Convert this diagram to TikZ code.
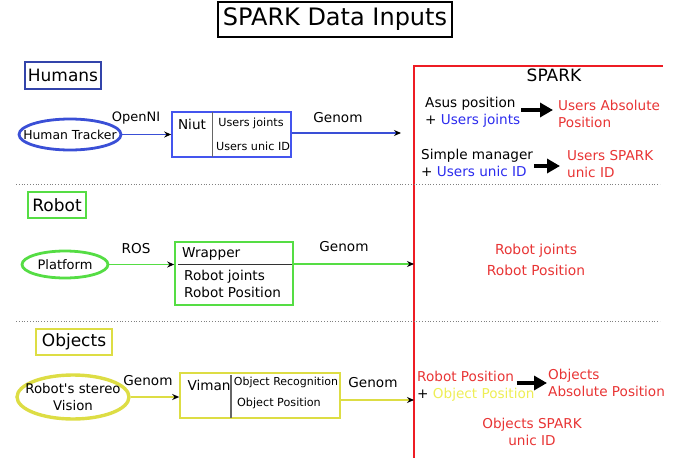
\documentclass[tikz,border=0pt]{standalone}
\usepackage{fontspec}
\setmainfont{DejaVu Sans}[Ligatures=TeXOff]
\usepackage{tikz}
\usetikzlibrary{arrows.meta,shapes.geometric}

\definecolor{hblue}{HTML}{3344AA}
\definecolor{eblue}{HTML}{3A4FD6}
\definecolor{bblue}{HTML}{4455EE}
\definecolor{tblue}{HTML}{2B2BEE}
\definecolor{rgreen}{HTML}{55DD44}
\definecolor{oyell}{HTML}{DDDD44}
\definecolor{tyell}{HTML}{EEEE55}
\definecolor{sred}{HTML}{EE1C24}
\definecolor{tred}{HTML}{E83434}

\begin{document}
\begin{tikzpicture}[x=1pt,y=-1pt,
    txt/.style={inner sep=1pt,font=\fontsize{13.6}{17}\selectfont},
    sm/.style={inner sep=1pt,font=\fontsize{11.2}{14}\selectfont},
    cat/.style={draw,line width=1.8pt,inner sep=0pt,font=\fontsize{17}{20}\selectfont},
    src/.style={draw,ellipse,inner sep=0pt,line width=2.8pt},
    modbox/.style={draw,line width=1.6pt,inner sep=0pt},
    feed/.style={-{Stealth[black,length=7pt,width=6pt]},line width=1.1pt},
    big/.style={-{Triangle[length=13pt,width=14pt]},line width=3.4pt},
    sep/.style={draw=gray,dotted,line width=0.8pt}]
    \useasboundingbox (0,0) rectangle (673,458);

    % title
    \node[draw,line width=1.6pt,minimum width=234pt,minimum height=35pt,
          font=\fontsize{24}{26}\selectfont] (title) at (335,19.5) {SPARK Data Inputs};

    % SPARK frame
    \draw[sred,line width=2pt] (414,460) -- (414,66) -- (663,66);
    \node[font=\fontsize{17}{20}\selectfont] (spark) at (554,75) {SPARK};

    % separators
    \draw[sep] (16,184) -- (660,184);
    \draw[sep] (16,321) -- (660,321);

    % humans
    \node[cat,draw=hblue,minimum width=76pt,minimum height=27pt] (humans) at (63,75.5) {Humans};
    \node[src,draw=eblue,minimum width=102pt,minimum height=31pt] (track) at (70,134.5) {};
    \node[inner sep=0pt,font=\fontsize{12.4}{14}\selectfont] (trackl) at (track) {Human Tracker};
    \node[modbox,draw=bblue,minimum width=119pt,minimum height=45pt] (niut) at (231.5,134.5) {};
    \draw[gray!80!black,line width=0.8pt] (212,112) -- (212,157);
    \node[txt] (niutl) at (192,124) {Niut};
    \node[sm] (ujoints) at (251,123) {Users joints};
    \node[sm] (uid) at (253,146) {Users unic ID};
    \node[txt,font=\fontsize{13}{17}\selectfont] (openni) at (136,118) {OpenNI};
    \node[txt] (genh) at (338,118) {Genom};
    \coordinate (hend) at (401,133);
    \draw[feed,eblue] (track.east) -- (track.east -| niut.west);
    \draw[feed,eblue] (niut.east |- hend) -- (hend);

    \node[txt,anchor=west,align=left] (asus) at (424,112) {Asus position\\+ {\color{tblue}Users joints}};
    \node[txt,anchor=west,align=left,text=tred] (uabs) at (557,114) {Users Absolute\\Position};
    \draw[big] ([yshift=2pt]asus.east) -- ([yshift=2pt,xshift=-4pt]asus.east -| uabs.west);
    \node[txt,anchor=west,align=left] (simple) at (420,163) {Simple manager\\+ {\color{tblue}Users unic ID}};
    \node[txt,anchor=west,align=left,text=tred] (uspark) at (566,164) {Users SPARK\\unic ID};
    \draw[big] ([yshift=-3pt]simple.east) -- ([yshift=-3pt,xshift=-6pt]simple.east -| uspark.west);

    % robot
    \node[cat,draw=rgreen,minimum width=58pt,minimum height=26pt] (robot) at (57,205) {Robot};
    \node[src,draw=rgreen,minimum width=86pt,minimum height=27pt] (plat) at (65,264.5) {};
    \node[inner sep=0pt,font=\fontsize{13}{14}\selectfont] (platl) at (plat) {Platform};
    \node[modbox,draw=rgreen,minimum width=118pt,minimum height=63pt] (wrap) at (234,273.5) {};
    \node[txt,anchor=west] (wrapl) at (181,254) {Wrapper};
    \draw[black!80,line width=0.9pt] (178,264) -- (292,264);
    \node[txt,anchor=west,align=left] (rdata) at (183,284) {Robot joints\\Robot Position};
    \node[txt] (ros) at (136,249) {ROS};
    \node[txt] (genr) at (344,247) {Genom};
    \coordinate (rend) at (414,264);
    \draw[feed,rgreen] (plat.east) -- (plat.east -| wrap.west);
    \draw[feed,rgreen] (wrap.east |- rend) -- (rend);
    \node[txt,text=tred,align=center,font=\fontsize{13.8}{21}\selectfont] (rspark) at (536,260) {Robot joints\\Robot Position};

    % objects
    \node[cat,draw=oyell,minimum width=76pt,minimum height=26pt] (objects) at (74,342) {Objects};
    \node[src,draw=oyell,line width=3.4pt,minimum width=112pt,minimum height=44pt] (vis) at (73,397) {};
    \node[inner sep=0pt,align=center,font=\fontsize{13.3}{17}\selectfont] (visl) at (vis) {Robot's stereo\\Vision};
    \node[modbox,draw=oyell,minimum width=160pt,minimum height=45pt] (viman) at (260,395.5) {};
    \draw[gray!80!black,line width=1.4pt] (231,375) -- (231,418);
    \node[txt] (vimanl) at (209,385) {Viman};
    \node[sm,font=\fontsize{11}{13}\selectfont] (orec) at (286,382) {Object Recognition};
    \node[sm] (opos) at (279,403) {Object Position};
    \node[txt] (geno) at (148,381) {Genom};
    \node[txt] (geno2) at (373,383) {Genom};
    \coordinate (oend) at (414,400);
    \draw[feed,oyell] (vis.east) -- (vis.east -| viman.west);
    \draw[feed,oyell] (viman.east |- oend) -- (oend);

    \node[txt,anchor=west,align=left] (rpos) at (416,386) {{\color{tred}Robot Position}\\+ {\color{tyell}Object Position}};
    \node[txt,anchor=west,align=left,text=tred] (oabs) at (547,383) {Objects\\Absolute Position};
    \draw[big] ([yshift=3pt,xshift=-19pt]rpos.east) -- ([yshift=3pt]rpos.east -| oabs.west);
    \node[txt,text=tred,align=center] (ospark) at (532,432) {Objects SPARK\\unic ID};
\end{tikzpicture}
\end{document}
